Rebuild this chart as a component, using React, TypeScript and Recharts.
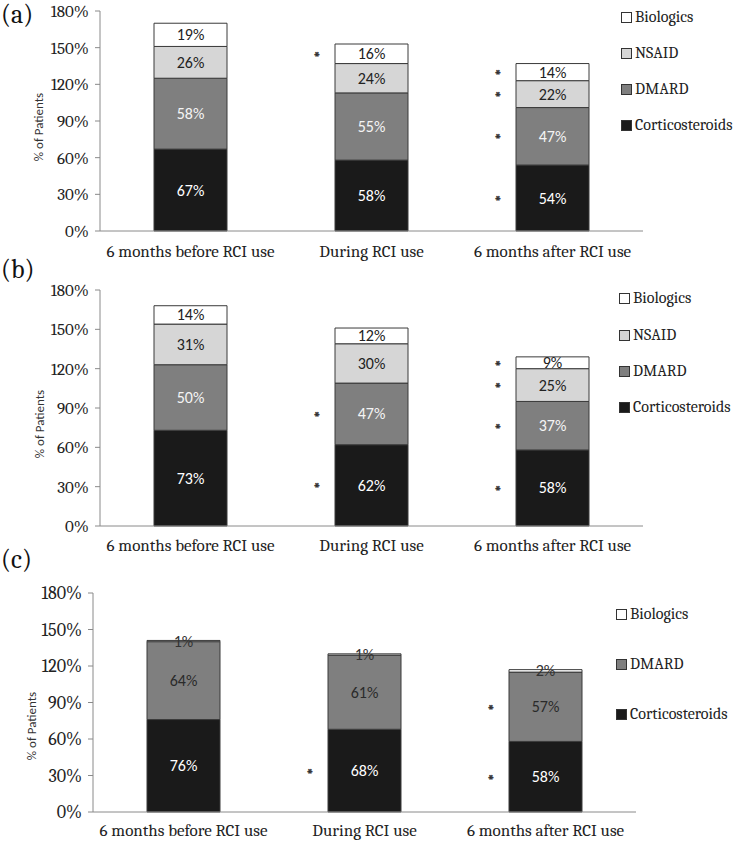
import React from 'react';
import { BarChart, Bar, XAxis, YAxis, LabelList, Label } from 'recharts';

// ---------- DATA ----------
const categories = ['6 months before RCI use', 'During RCI use', '6 months after RCI use'];
const yTicks = [0, 30, 60, 90, 120, 150, 180];

// Panel (a)
const aCortico = [67, 58, 54];
const aDmard = [58, 55, 47];
const aNsaid = [26, 24, 22];
const aBio = [19, 16, 14];
const aStarCortico = [0, 0, 1];
const aStarDmard = [0, 0, 1];
const aStarNsaid = [0, 0, 1];
const aStarBio = [0, 1, 1];

// Panel (b)
const bCortico = [73, 62, 58];
const bDmard = [50, 47, 37];
const bNsaid = [31, 30, 25];
const bBio = [14, 12, 9];
const bStarCortico = [0, 1, 1];
const bStarDmard = [0, 1, 1];
const bStarNsaid = [0, 0, 1];
const bStarBio = [0, 0, 1];

// Panel (c)
const cCortico = [76, 68, 58];
const cDmard = [64, 61, 57];
const cBio = [1, 1, 2];
const cStarCortico = [0, 1, 1];
const cStarDmard = [0, 0, 1];
const cStarBio = [0, 0, 0];

// ---------- STYLE ----------
const COLORS: Record<string, string> = {
  Corticosteroids: '#1a1a1a',
  DMARD: '#7f7f7f',
  NSAID: '#d6d6d6',
  Biologics: '#ffffff',
};
const SERIF = 'Caladea, "Liberation Serif", serif';
const SANS = 'Carlito, Lato, sans-serif';

type Series = { name: string; values: number[]; stars: number[]; text: string };

function makeLabel(values: number[], stars: number[], textColor: string) {
  return (props: any) => {
    const { x, y, width, height, index } = props;
    const cx = Number(x) + Number(width) / 2;
    const cy = Number(y) + Number(height) / 2;
    return (
      <g>
        <text
          x={cx}
          y={cy}
          textAnchor="middle"
          dominantBaseline="central"
          fontFamily={SANS}
          fontSize={16}
          fill={textColor}
        >
          {values[index]}%
        </text>
        {stars[index] ? (
          <text
            x={Number(x) - 18}
            y={cy + 9}
            textAnchor="middle"
            fontFamily={SERIF}
            fontSize={17}
            fill="#222"
            stroke="#222"
            strokeWidth={0.3}
          >
            *
          </text>
        ) : null}
      </g>
    );
  };
}

type PanelProps = {
  top: number;
  height: number;
  margin: { top: number; right: number; left: number; bottom: number };
  xHeight: number;
  series: Series[];
  tickMargin: number;
  yFont: number;
  yLabelX: number;
  yLabelY: number;
};

function Panel({ top, height, margin, xHeight, series, tickMargin, yFont, yLabelX, yLabelY }: PanelProps) {
  const data = categories.map((c, i) => {
    const row: Record<string, any> = { name: c };
    series.forEach((s) => {
      row[s.name] = s.values[i];
    });
    return row;
  });
  return (
    <div style={{ position: 'absolute', left: 0, top, width: 737, height }}>
      <BarChart width={737} height={height} data={data} margin={margin} barSize={73}>
        <XAxis
          xAxisId="bt"
          type="number"
          domain={[0, 3]}
          ticks={[0, 1, 2, 3]}
          allowDataOverflow
          tick={false}
          tickSize={5}
          height={0}
          axisLine={false}
          tickLine={{ stroke: '#8a8a8a' }}
        />
        <XAxis
          dataKey="name"
          height={xHeight}
          tickLine={false}
          tickSize={0}
          tickMargin={tickMargin}
          axisLine={{ stroke: '#8a8a8a' }}
          tick={{ fontFamily: SERIF, fontSize: 17, fill: '#222' }}
          interval={0}
        />
        <YAxis
          width={60}
          domain={[0, 180]}
          ticks={yTicks}
          tickFormatter={(v: number) => `${v}%`}
          tickSize={5}
          tickMargin={6}
          axisLine={{ stroke: '#8a8a8a' }}
          tickLine={{ stroke: '#8a8a8a' }}
          tick={{ fontFamily: SERIF, fontSize: yFont, fill: '#222' }}
          label={
            <Label
              content={() => (
                <text
                  transform={`translate(${yLabelX},${yLabelY}) rotate(-90)`}
                  textAnchor="middle"
                  dominantBaseline="central"
                  fontFamily={SANS}
                  fontSize={13}
                  fill="#333"
                >
                  % of Patients
                </text>
              )}
            />
          }
        />
        {series.map((s) => (
          <Bar
            key={s.name}
            dataKey={s.name}
            stackId="s"
            fill={COLORS[s.name]}
            stroke="#3a3a3a"
            strokeWidth={1}
            isAnimationActive={false}
          >
            <LabelList dataKey={s.name} content={makeLabel(s.values, s.stars, s.text)} />
          </Bar>
        ))}
      </BarChart>
    </div>
  );
}

function LegendBlock({ items, ys, sx }: { items: string[]; ys: number[]; sx: number }) {
  return (
    <>
      {items.map((name, i) => (
        <div
          key={name}
          style={{
            position: 'absolute',
            left: sx,
            top: ys[i] - 10,
            height: 20,
            display: 'flex',
            alignItems: 'center',
            fontFamily: SERIF,
            fontSize: 16,
            color: '#222',
            whiteSpace: 'nowrap',
          }}
        >
          <span
            style={{
              display: 'inline-block',
              width: 9,
              height: 9,
              background: COLORS[name],
              border: '1px solid #333',
              marginRight: 3,
            }}
          />
          <span>{name}</span>
        </div>
      ))}
    </>
  );
}

export default function App() {
  const seriesA: Series[] = [
    { name: 'Corticosteroids', values: aCortico, stars: aStarCortico, text: '#ffffff' },
    { name: 'DMARD', values: aDmard, stars: aStarDmard, text: '#f4f4f4' },
    { name: 'NSAID', values: aNsaid, stars: aStarNsaid, text: '#222' },
    { name: 'Biologics', values: aBio, stars: aStarBio, text: '#222' },
  ];
  const seriesB: Series[] = [
    { name: 'Corticosteroids', values: bCortico, stars: bStarCortico, text: '#ffffff' },
    { name: 'DMARD', values: bDmard, stars: bStarDmard, text: '#f4f4f4' },
    { name: 'NSAID', values: bNsaid, stars: bStarNsaid, text: '#222' },
    { name: 'Biologics', values: bBio, stars: bStarBio, text: '#222' },
  ];
  const seriesC: Series[] = [
    { name: 'Corticosteroids', values: cCortico, stars: cStarCortico, text: '#ffffff' },
    { name: 'DMARD', values: cDmard, stars: cStarDmard, text: '#2a2a2a' },
    { name: 'Biologics', values: cBio, stars: cStarBio, text: '#333' },
  ];

  return (
    <div style={{ position: 'absolute', left: 0, top: 0, width: 737, height: 841, background: '#fff', overflow: 'hidden' }}>
      <Panel
        top={0}
        height={270}
        margin={{ top: 11, right: 94, left: 40, bottom: 9 }}
        xHeight={30}
        series={seriesA}
        tickMargin={14}
        yFont={17}
        yLabelX={38}
        yLabelY={127}
      />
      <Panel
        top={270}
        height={290}
        margin={{ top: 20, right: 94, left: 40, bottom: 4 }}
        xHeight={30}
        series={seriesB}
        tickMargin={13}
        yFont={17}
        yLabelX={39}
        yLabelY={154}
      />
      <Panel
        top={560}
        height={281}
        margin={{ top: 33, right: 101, left: 33, bottom: 0 }}
        xHeight={29}
        series={seriesC}
        tickMargin={12}
        yFont={18}
        yLabelX={31}
        yLabelY={166}
      />
      <LegendBlock items={['Biologics', 'NSAID', 'DMARD', 'Corticosteroids']} ys={[17, 53, 89, 125]} sx={621} />
      <LegendBlock items={['Biologics', 'NSAID', 'DMARD', 'Corticosteroids']} ys={[298, 335, 371, 407]} sx={619} />
      <LegendBlock items={['Biologics', 'DMARD', 'Corticosteroids']} ys={[614, 664, 714]} sx={616} />
      <svg width={737} height={841} style={{ position: 'absolute', left: 0, top: 0, pointerEvents: 'none' }}>
        <text x={1} y={23} fontFamily={SERIF} fontSize={26} fill="#111">(a)</text>
        <text x={1} y={278} fontFamily={SERIF} fontSize={26} fill="#111">(b)</text>
        <text x={1} y={568} fontFamily={SERIF} fontSize={26} fill="#111">(c)</text>
      </svg>
    </div>
  );
}
